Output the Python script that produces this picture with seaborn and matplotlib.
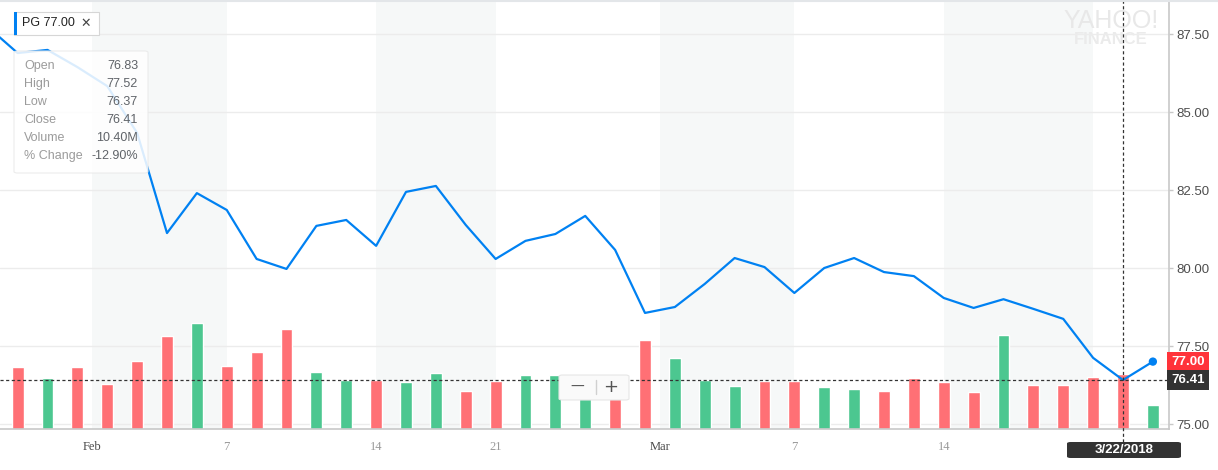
import numpy as np
import pandas as pd
import matplotlib as mpl
from matplotlib import pyplot as plt
from matplotlib.patches import FancyBboxPatch, Rectangle
from matplotlib.lines import Line2D
import seaborn as sns

sns.set_style("white")
plt.rcParams['font.family'] = ['Liberation Sans', 'DejaVu Sans']

# PG daily data, 26 Jan - 23 Mar 2018 (first day only feeds the line off the left edge)
dates = ['2018-01-26',
         '2018-01-29', '2018-01-30', '2018-01-31', '2018-02-01', '2018-02-02',
         '2018-02-05', '2018-02-06', '2018-02-07', '2018-02-08', '2018-02-09',
         '2018-02-12', '2018-02-13', '2018-02-14', '2018-02-15', '2018-02-16',
         '2018-02-20', '2018-02-21', '2018-02-22', '2018-02-23', '2018-02-26',
         '2018-02-27', '2018-02-28', '2018-03-01', '2018-03-02', '2018-03-05',
         '2018-03-06', '2018-03-07', '2018-03-08', '2018-03-09', '2018-03-12',
         '2018-03-13', '2018-03-14', '2018-03-15', '2018-03-16', '2018-03-19',
         '2018-03-20', '2018-03-21', '2018-03-22', '2018-03-23']
close = [87.73,
         86.89, 86.99, 86.44, 85.83, 84.33,
         81.12, 82.40, 81.86, 80.29, 79.97,
         81.35, 81.54, 80.71, 82.44, 82.63,
         81.38, 80.29, 80.87, 81.09, 81.67,
         80.58, 78.56, 78.75, 79.49, 80.32,
         80.03, 79.20, 80.00, 80.32, 79.87,
         79.74, 79.04, 78.72, 79.00, 78.69,
         78.37, 77.12, 76.41, 77.00]
# volume in millions, for 29 Jan onwards
volume = [11.8, 9.6, 11.8, 8.6, 12.9,
          17.6, 20.1, 12.0, 14.6, 18.9,
          10.8, 9.3, 9.3, 8.9, 10.5,
          7.1, 9.1, 10.3, 10.3, 8.7,
          7.9, 16.8, 13.4, 9.3, 8.1,
          9.1, 9.1, 7.9, 7.6, 7.2,
          9.6, 8.9, 7.0, 17.8, 8.3,
          8.3, 9.8, 10.4, 4.5]
direction = ['down', 'up', 'down', 'down', 'down',
             'down', 'up', 'down', 'down', 'down',
             'up', 'up', 'down', 'up', 'up',
             'down', 'down', 'up', 'up', 'up',
             'down', 'down', 'up', 'up', 'up',
             'down', 'down', 'up', 'up', 'down',
             'down', 'down', 'down', 'up', 'down',
             'down', 'down', 'down', 'up']

tick_dates = ['2018-02-01', '2018-02-07', '2018-02-14', '2018-02-21',
              '2018-03-01', '2018-03-07', '2018-03-14', '2018-03-21']
# last label sits under the date badge, so it is left blank
tick_labels = ['Feb', '7', '14', '21', 'Mar', '7', '14', '']
band_dates = [('2018-02-01', '2018-02-07'), ('2018-02-14', '2018-02-21'),
              ('2018-03-01', '2018-03-07'), ('2018-03-14', '2018-03-21')]
price_ticks = [75.0, 77.5, 80.0, 82.5, 85.0, 87.5]
hover_date = '2018-03-22'
tooltip_rows = [('Open', '76.83'), ('High', '77.52'), ('Low', '76.37'),
                ('Close', '76.41'), ('Volume', '10.40M'), ('% Change', '-12.90%')]

prices = pd.DataFrame({'date': dates, 'close': close})
prices['day'] = np.arange(len(dates)) - 1
vols = pd.DataFrame({'date': dates[1:], 'vol': volume, 'dir': direction})
vols['day'] = np.arange(len(volume))
day_of = dict(zip(prices['date'], prices['day']))


def pos(d):
    # month ticks/bands sit on the boundary before the first trading day
    return day_of[d] - 0.5 if d.endswith('-01') else day_of[d]


RED, GREEN, BLUE = '#ff7075', '#4cc790', '#0081f2'
W, H = 1218, 470
fig = plt.figure(figsize=(W / 100, H / 100), dpi=100)
ax_v = fig.add_axes([0, 41 / H, 1169 / W, 429 / H])
ax_p = ax_v.twinx()

for a, b in band_dates:
    ax_v.axvspan(pos(a), pos(b), color='#f6f8f8', lw=0, zorder=0)

sns.barplot(data=vols, x='day', y='vol', hue='dir', palette={'up': GREEN, 'down': RED},
            native_scale=True, dodge=False, width=0.4, errorbar=None, saturation=1,
            legend=False, ax=ax_v, zorder=2)

sns.lineplot(data=prices, x='day', y='close', color=BLUE, lw=1.6, ax=ax_p, zorder=3)
sns.scatterplot(x=prices['day'].iloc[-1:], y=prices['close'].iloc[-1:], color=BLUE,
                s=36, edgecolor='none', ax=ax_p, zorder=4, clip_on=False)

ax_v.set_xlim(-0.59, 38.54)
ax_v.set_ylim(0, 81.1)
ax_p.set_ylim(74.84, 88.59)

# horizontal grid at price ticks, kept behind the bars
for t in price_ticks:
    ax_v.plot([0, 1], [t, t], transform=ax_p.get_yaxis_transform(), color='#ececec',
              lw=1, zorder=1)

ax_v.set_xticks([pos(d) for d in tick_dates])
ax_v.set_xticklabels(tick_labels, family='Liberation Serif', fontsize=9)
for lbl, t in zip(ax_v.get_xticklabels(), tick_labels):
    lbl.set_color('#4a4a4a' if t.isalpha() else '#9a9a9a')
ax_v.tick_params(axis='x', length=3.5, width=1, color='#c8c8c8', pad=5)
ax_v.set_yticks([])
ax_v.set_xlabel('')
ax_v.set_ylabel('')

ax_p.set_yticks(price_ticks)
ax_p.yaxis.set_major_formatter(mpl.ticker.FormatStrFormatter('%.2f'))
ax_p.tick_params(axis='y', length=3, width=1, color='#c8c8c8', pad=2,
                 labelsize=9.5, labelcolor='#4d4d4d')
ax_p.set_xlabel('')
ax_p.set_ylabel('')

for s in ['left', 'top', 'right']:
    ax_v.spines[s].set_visible(False)
for s in ['left', 'top', 'bottom']:
    ax_p.spines[s].set_visible(False)
ax_v.spines['bottom'].set_color('#c8c8c8')
ax_p.spines['right'].set_color('#c8c8c8')
ax_v.spines['bottom'].set_linewidth(1.2)
ax_p.spines['right'].set_linewidth(1.2)

# crosshair
hx = day_of[hover_date]
hy = prices.loc[prices['date'] == hover_date, 'close'].iloc[0]
ax_p.axvline(hx, ymin=-0.03, ymax=1, color='#333333', lw=0.9, ls=(0, (2.5, 2)),
             clip_on=False, zorder=5)
ax_p.axhline(hy, color='#333333', lw=0.9, ls=(0, (2.5, 2)), zorder=5)

# right-hand price badges
last = close[-1]
ax_p.text(1.002, last, f'{last:.2f}', transform=ax_p.get_yaxis_transform(), ha='left',
          va='center', color='white', fontweight='bold', fontsize=9.5, clip_on=False,
          bbox=dict(boxstyle='square,pad=0.3', fc='#ff333a', ec='none'), zorder=6)
ax_p.text(1.002, hy, f'{hy:.2f}', transform=ax_p.get_yaxis_transform(), ha='left',
          va='center', color='white', fontweight='bold', fontsize=9.5, clip_on=False,
          bbox=dict(boxstyle='square,pad=0.3', fc='#333333', ec='none'), zorder=6)

# watermark
ax_v.text(1111 / W, 1 - 21 / H, 'YAHOO!', transform=fig.transFigure, ha='center',
          va='center', fontsize=18, color='#e8e8e8', zorder=0.5)
ax_v.text(1111 / W, 1 - 40 / H, 'FINANCE', transform=fig.transFigure, ha='center',
          va='center', fontsize=12, fontweight='bold', color='#ebebeb', zorder=0.5)


def fx(x):
    return x / W


def fy(y):
    return 1 - y / H


# top border
fig.add_artist(Line2D([0, 1], [fy(1), fy(1)], transform=fig.transFigure,
                      color='#e3e6e9', lw=1.5))

# date badge under the crosshair
fig.add_artist(FancyBboxPatch((fx(1067), fy(458)), 114 / W, 16 / H,
                              boxstyle='round,pad=0,rounding_size=0.003',
                              transform=fig.transFigure, fc='#333333', ec='none'))
fig.text(fx(1124), fy(450), '3/22/2018', ha='center', va='center', color='white',
         fontweight='bold', fontsize=9.5)

# symbol chip
fig.add_artist(FancyBboxPatch((fx(14), fy(35)), 85 / W, 23 / H, boxstyle='square,pad=0',
                              transform=fig.transFigure, fc='white', ec='#d6d6d6', lw=0.8))
fig.add_artist(Rectangle((fx(14), fy(35)), 3 / W, 23 / H, transform=fig.transFigure,
                         fc=BLUE, ec='none'))
fig.text(fx(22), fy(23.5), 'PG 77.00', ha='left', va='center', color='#222222', fontsize=9)
fig.text(fx(86), fy(23.5), '✕', ha='center', va='center', color='#444444', fontsize=9,
         family=['DejaVu Sans'])

# tooltip
fig.add_artist(FancyBboxPatch((fx(14), fy(173)), 134 / W, 122 / H,
                              boxstyle='round,pad=0,rounding_size=0.003',
                              transform=fig.transFigure, fc='white', ec='#e9e9e9',
                              lw=0.8, alpha=0.86))
for i, (k, v) in enumerate(tooltip_rows):
    fig.text(fx(24), fy(66 + 18 * i), k, ha='left', va='center', color='#9b9b9b', fontsize=9)
    fig.text(fx(138), fy(66 + 18 * i), v, ha='right', va='center', color='#5f6368', fontsize=9)

# zoom control
fig.add_artist(FancyBboxPatch((fx(559), fy(400)), 70 / W, 25 / H,
                              boxstyle='round,pad=0,rounding_size=0.003',
                              transform=fig.transFigure, fc='#fafafa', ec='#e6e6e6', lw=0.8))
fig.text(fx(577), fy(387), '—', ha='center', va='center', color='#555555', fontsize=10,
         family=['DejaVu Sans'])
fig.add_artist(Line2D([fx(596), fx(596)], [fy(380), fy(394)], transform=fig.transFigure,
                      color='#d0d0d0', lw=1))
fig.text(fx(611), fy(387), '+', ha='center', va='center', color='#555555', fontsize=13,
         family=['DejaVu Sans'])

fig.savefig('out.png', dpi=100)
